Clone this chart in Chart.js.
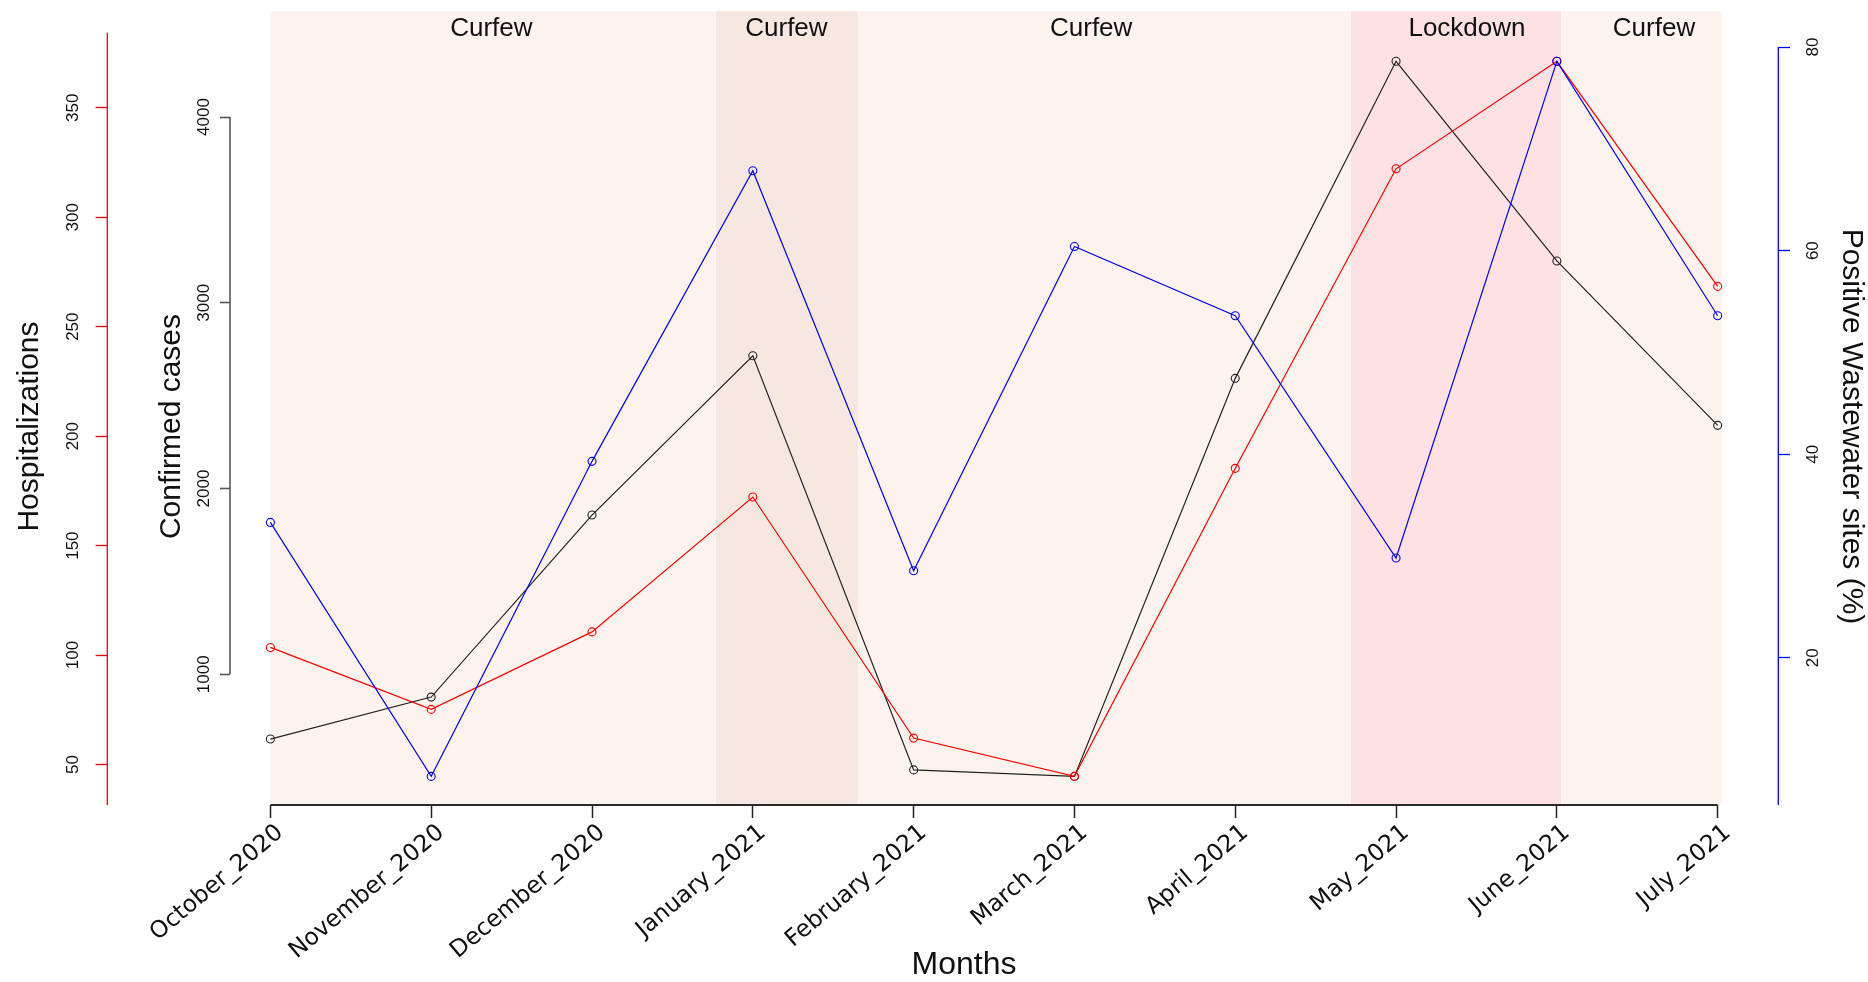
<!DOCTYPE html>
<html><head><meta charset="utf-8">
<script src="https://cdn.jsdelivr.net/npm/chart.js@4.4.1/dist/chart.umd.min.js"></script>
<style>html,body{margin:0;padding:0;background:#fff;overflow:hidden}canvas{display:block}</style>
</head><body>
<canvas id="c" width="1868" height="982"></canvas>
<script>
// ---------------- data ----------------
const months = ['October_2020','November_2020','December_2020','January_2021','February_2021','March_2021','April_2021','May_2021','June_2021','July_2021'];
const confirmedCases = [651, 877, 1857, 2715, 485, 450, 2593, 4300, 3225, 2340];
const hospitalizations = [103.5, 75.2, 110.6, 172.2, 62.1, 44.6, 185.3, 322.1, 371.2, 268.4];
const wastewaterSites = [33.3, 8.35, 39.3, 67.85, 28.55, 60.4, 53.6, 29.8, 78.6, 53.6];
const casesTicks = [1000, 2000, 3000, 4000];
const hospTicks = [50, 100, 150, 200, 250, 300, 350];
const wastewaterTicks = [20, 40, 60, 80];
const periodStart = [0, 2.768, 3.655, 6.716, 8.027];
const periodEnd = [2.768, 3.655, 6.716, 8.027, 9.025];
const periodLabels = ['Curfew', 'Curfew', 'Curfew', 'Lockdown', 'Curfew'];
const periodLabelAt = [1.374, 3.209, 5.104, 7.441, 8.604];

// ---------------- styles ----------------
const periodFill = ['#FDF3EE', '#F6E8E1', '#FDF3EE', '#FDE1E3', '#FDF3EE'];
const TITLE_FONT = "'Liberation Sans', Arial, sans-serif";
const TOP_EXTRA = 0.0281; // shading rises above the plotting region

function rRange(values) {
  const lo = Math.min(...values), hi = Math.max(...values), pad = 0.04 * (hi - lo);
  return [lo - pad, hi + pad];
}
function scaleRange(values) {
  const [a, b] = rRange(values);
  return { min: a, max: b + (b - a) * TOP_EXTRA };
}
const pts = arr => arr.map((v, i) => ({ x: i, y: v }));

const bandDatasets = periodStart.map((s, i) => ({
  type: 'line', label: periodLabels[i], yAxisID: 'yBand', xAxisID: 'x',
  data: [{ x: s, y: 1 }, { x: periodEnd[i], y: 1 }],
  borderWidth: 0, borderColor: 'rgba(0,0,0,0)', pointRadius: 0,
  backgroundColor: periodFill[i], fill: 'start', order: 10
}));

function seriesDs(label, arr, color, axis, order) {
  return {
    type: 'line', label, data: pts(arr), yAxisID: axis, xAxisID: 'x',
    borderColor: color, borderWidth: 1.2, tension: 0, fill: false,
    pointRadius: 4, pointBorderWidth: 1.1, pointBorderColor: color,
    pointBackgroundColor: 'rgba(0,0,0,0)',
    order
  };
}

const setTicks = list => axis => { axis.ticks = list.map(v => ({ value: v })); };
const fitTo = (dim, size) => s => { s[dim] = size; s.paddingTop = 0; s.paddingBottom = 0; s.paddingLeft = 0; s.paddingRight = 0; };

const yTickFont = { family: TITLE_FONT, size: 17 };
const plain = v => String(v);

const overlay = {
  id: 'overlay',
  afterDraw(chart) {
    const { ctx, chartArea, scales } = chart;
    const x = scales.x, yH = scales.yHosp, yC = scales.yCases, yW = scales.yWaste;
    ctx.save();
    // x axis line from first to last month
    ctx.strokeStyle = '#2a2a2a'; ctx.lineWidth = 2;
    ctx.beginPath(); ctx.moveTo(x.getPixelForValue(0), chartArea.bottom); ctx.lineTo(x.getPixelForValue(months.length - 1), chartArea.bottom); ctx.stroke();
    // hospitalizations axis line
    const rh = rRange(hospitalizations);
    ctx.strokeStyle = '#ff0000'; ctx.lineWidth = 1.3;
    ctx.beginPath(); ctx.moveTo(yH.right, yH.getPixelForValue(rh[1])); ctx.lineTo(yH.right, yH.getPixelForValue(rh[0])); ctx.stroke();
    // cases axis line
    ctx.strokeStyle = '#555'; ctx.lineWidth = 1.6;
    ctx.beginPath(); ctx.moveTo(yC.right, yC.getPixelForValue(casesTicks[0])); ctx.lineTo(yC.right, yC.getPixelForValue(casesTicks[casesTicks.length - 1])); ctx.stroke();
    // wastewater axis line
    const rw = rRange(wastewaterSites);
    ctx.strokeStyle = '#0000ff'; ctx.lineWidth = 1.3;
    ctx.beginPath(); ctx.moveTo(yW.left, yW.getPixelForValue(wastewaterTicks[wastewaterTicks.length - 1])); ctx.lineTo(yW.left, yW.getPixelForValue(rw[0])); ctx.stroke();

    // period labels
    ctx.fillStyle = '#111'; ctx.textAlign = 'center'; ctx.textBaseline = 'alphabetic';
    ctx.font = "26px " + TITLE_FONT;
    periodLabels.forEach((t, i) => ctx.fillText(t, x.getPixelForValue(periodLabelAt[i]), chartArea.top + 25));

    // axis titles
    const midY = chartArea.top + 415.5;
    ctx.font = "30px " + TITLE_FONT; ctx.textBaseline = 'middle';
    ctx.save(); ctx.translate(yH.left + 30, midY); ctx.rotate(-Math.PI / 2); ctx.fillText('Hospitalizations', 0, 0); ctx.restore();
    ctx.save(); ctx.translate(yC.left + 64.4, midY); ctx.rotate(-Math.PI / 2); ctx.fillText('Confirmed cases', 0, 0); ctx.restore();
    ctx.save(); ctx.translate(yW.left + 73.2, midY); ctx.rotate(Math.PI / 2); ctx.fillText('Positive Wastewater sites (%)', 0, 0); ctx.restore();
    ctx.font = "32px " + TITLE_FONT;
    ctx.fillText('Months', 964, chartArea.bottom + 160);
    ctx.restore();
  }
};

new Chart(document.getElementById('c'), {
  data: {
    datasets: [
      seriesDs('Positive Wastewater sites (%)', wastewaterSites, '#0000ff', 'yWaste', 1),
      seriesDs('Hospitalizations', hospitalizations, '#ff0000', 'yHosp', 2),
      seriesDs('Confirmed cases', confirmedCases, '#222222', 'yCases', 3),
      ...bandDatasets
    ]
  },
  options: {
    responsive: false, animation: false, events: [],
    devicePixelRatio: 1,
    layout: { padding: { top: 11, left: 0, right: 0, bottom: 0 } },
    plugins: { legend: { display: false }, tooltip: { enabled: false } },
    scales: {
      x: {
        type: 'linear', position: 'bottom', min: -0.2512, max: 9.377,
        afterBuildTicks: axis => { axis.ticks = months.map((m, i) => ({ value: i })); },
        afterFit: fitTo('height', 177),
        ticks: {
          autoSkip: false, minRotation: 40, maxRotation: 40, padding: 1, labelOffset: 10,
          color: '#111', font: { family: "'DejaVu Sans', sans-serif", size: 23.5 },
          callback: v => months[v]
        },
        grid: { drawOnChartArea: false, drawTicks: true, tickLength: 13, tickWidth: 1.5, tickColor: '#222' },
        border: { display: false }
      },
      yHosp: {
        type: 'linear', position: 'left', weight: 2, ...scaleRange(hospitalizations),
        afterBuildTicks: setTicks(hospTicks),
        afterFit: fitTo('width', 107.3),
        ticks: { autoSkip: false, minRotation: 90, maxRotation: 90, crossAlign: 'center', padding: 8.5, color: '#111', font: yTickFont, callback: plain },
        grid: { drawOnChartArea: false, drawTicks: true, tickLength: 11.7, tickWidth: 1.3, tickColor: '#ff0000' },
        border: { display: false }
      },
      yCases: {
        type: 'linear', position: 'left', weight: 1, ...scaleRange(confirmedCases),
        afterBuildTicks: setTicks(casesTicks),
        afterFit: fitTo('width', 122.7),
        ticks: { autoSkip: false, minRotation: 90, maxRotation: 90, crossAlign: 'center', padding: -3.6, color: '#111', font: yTickFont, callback: plain },
        grid: { drawOnChartArea: false, drawTicks: true, tickLength: 10, tickWidth: 1.6, tickColor: '#555' },
        border: { display: false }
      },
      yWaste: {
        type: 'linear', position: 'right', ...scaleRange(wastewaterSites),
        afterBuildTicks: setTicks(wastewaterTicks),
        afterFit: fitTo('width', 89.7),
        ticks: { autoSkip: false, minRotation: 90, maxRotation: 90, crossAlign: 'center', padding: 13.6, color: '#111', font: yTickFont, callback: plain },
        grid: { drawOnChartArea: false, drawTicks: true, tickLength: 11.7, tickWidth: 1.3, tickColor: '#0000ff' },
        border: { display: false }
      },
      yBand: { type: 'linear', display: false, min: 0, max: 1 }
    }
  },
  plugins: [overlay]
});
</script>
</body></html>
